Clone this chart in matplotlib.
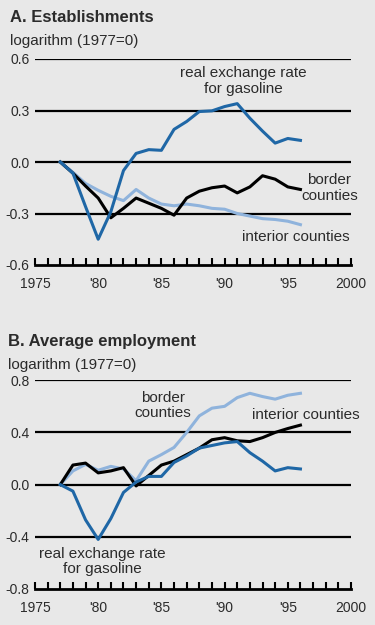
import numpy as np
import matplotlib.pyplot as plt

plt.rcParams['font.family'] = ['Liberation Sans', 'DejaVu Sans']

years = list(range(1977, 1997))

# Panel A: establishments (log, 1977=0)
est_exchange = [0.0, -0.065, -0.26, -0.45, -0.29, -0.05, 0.05, 0.072, 0.068, 0.19,
                0.236, 0.294, 0.298, 0.323, 0.34, 0.255, 0.18, 0.11, 0.137, 0.126]
est_border = [0.0, -0.065, -0.14, -0.21, -0.325, -0.27, -0.21, -0.24, -0.27, -0.31,
              -0.21, -0.17, -0.15, -0.14, -0.18, -0.145, -0.08, -0.10, -0.145, -0.16]
est_interior = [0.0, -0.06, -0.125, -0.165, -0.20, -0.225, -0.16, -0.21, -0.245, -0.255,
                -0.245, -0.255, -0.27, -0.275, -0.30, -0.315, -0.33, -0.335, -0.345, -0.365]

# Panel B: average employment (log, 1977=0)
emp_exchange = [0.0, -0.05, -0.27, -0.42, -0.26, -0.06, 0.02, 0.063, 0.063, 0.17,
                0.22, 0.28, 0.30, 0.32, 0.33, 0.245, 0.18, 0.105, 0.13, 0.12]
emp_black = [0.0, 0.15, 0.165, 0.09, 0.105, 0.13, -0.01, 0.07, 0.15, 0.18,
             0.23, 0.28, 0.344, 0.36, 0.336, 0.33, 0.36, 0.40, 0.43, 0.456]
emp_light = [0.0, 0.105, 0.155, 0.11, 0.14, 0.12, 0.03, 0.18, 0.23, 0.285,
             0.40, 0.527, 0.586, 0.60, 0.667, 0.70, 0.675, 0.655, 0.685, 0.70]

xtick_pos = [1975, 1980, 1985, 1990, 1995, 2000]
xtick_lab = ["1975", "'80", "'85", "'90", "'95", "2000"]

bg = '#e8e8e8'
dark_blue = '#1f67a6'
light_blue = '#8fb3dc'
txt = '#2b2b2b'

fig = plt.figure(figsize=(3.75, 6.25), dpi=100, facecolor=bg)


def setup(ax, yticks, ylim):
    ax.set_facecolor(bg)
    ax.set_xlim(1975, 2000)
    ax.set_ylim(*ylim)
    for s in ['top', 'right', 'left']:
        ax.spines[s].set_visible(False)
    ax.spines['bottom'].set_linewidth(2)
    ax.set_yticks(yticks)
    ax.set_yticklabels(['%.1f' % v for v in yticks], fontsize=10, color=txt)
    ax.tick_params(axis='y', length=0, pad=4)
    ax.set_xticks(range(1975, 2001), minor=True)
    ax.set_xticks(xtick_pos)
    ax.set_xticklabels(xtick_lab, fontsize=10, color=txt)
    ax.tick_params(axis='x', which='both', direction='in', length=5, width=1.5, pad=9)
    for v in yticks[1:]:
        ax.axhline(v, color='black', lw=1.6, zorder=1)


# Panel A
axA = fig.add_axes([0.0933, 0.576, 0.8427, 0.3296])
setup(axA, [-0.6, -0.3, 0.0, 0.3, 0.6], (-0.6, 0.6))
axA.plot(years, est_interior, color=light_blue, lw=2.2, zorder=3)
axA.plot(years, est_border, color='black', lw=2.2, zorder=4)
axA.plot(years, est_exchange, color=dark_blue, lw=2.2, zorder=5)
axA.text(1991.5, 0.47, 'real exchange rate\nfor gasoline', ha='center', va='center',
         fontsize=11, color=txt, linespacing=1.15)
axA.text(1998.3, -0.153, 'border\ncounties', ha='center', va='center',
         fontsize=11, color=txt, linespacing=1.15)
axA.text(1995.6, -0.435, 'interior counties', ha='center', va='center',
         fontsize=11, color=txt)
fig.text(0.027, 0.984, 'A. Establishments', fontsize=12, fontweight='bold',
         color=txt, va='top')
fig.text(0.027, 0.946, 'logarithm (1977=0)', fontsize=11, color=txt, va='top')

# Panel B
axB = fig.add_axes([0.0933, 0.0576, 0.8427, 0.334])
setup(axB, [-0.8, -0.4, 0.0, 0.4, 0.8], (-0.8, 0.8))
axB.plot(years, emp_light, color=light_blue, lw=2.2, zorder=3)
axB.plot(years, emp_black, color='black', lw=2.2, zorder=4)
axB.plot(years, emp_exchange, color=dark_blue, lw=2.2, zorder=5)
axB.text(1985.1, 0.606, 'border\ncounties', ha='center', va='center',
         fontsize=11, color=txt, linespacing=1.15)
axB.text(1996.4, 0.533, 'interior counties', ha='center', va='center',
         fontsize=11, color=txt)
axB.text(1980.3, -0.588, 'real exchange rate\nfor gasoline', ha='center', va='center',
         fontsize=11, color=txt, linespacing=1.15)
fig.text(0.022, 0.466, 'B. Average employment', fontsize=12, fontweight='bold',
         color=txt, va='top')
fig.text(0.022, 0.428, 'logarithm (1977=0)', fontsize=11, color=txt, va='top')

fig.savefig('out.png', dpi=100, facecolor=bg)
